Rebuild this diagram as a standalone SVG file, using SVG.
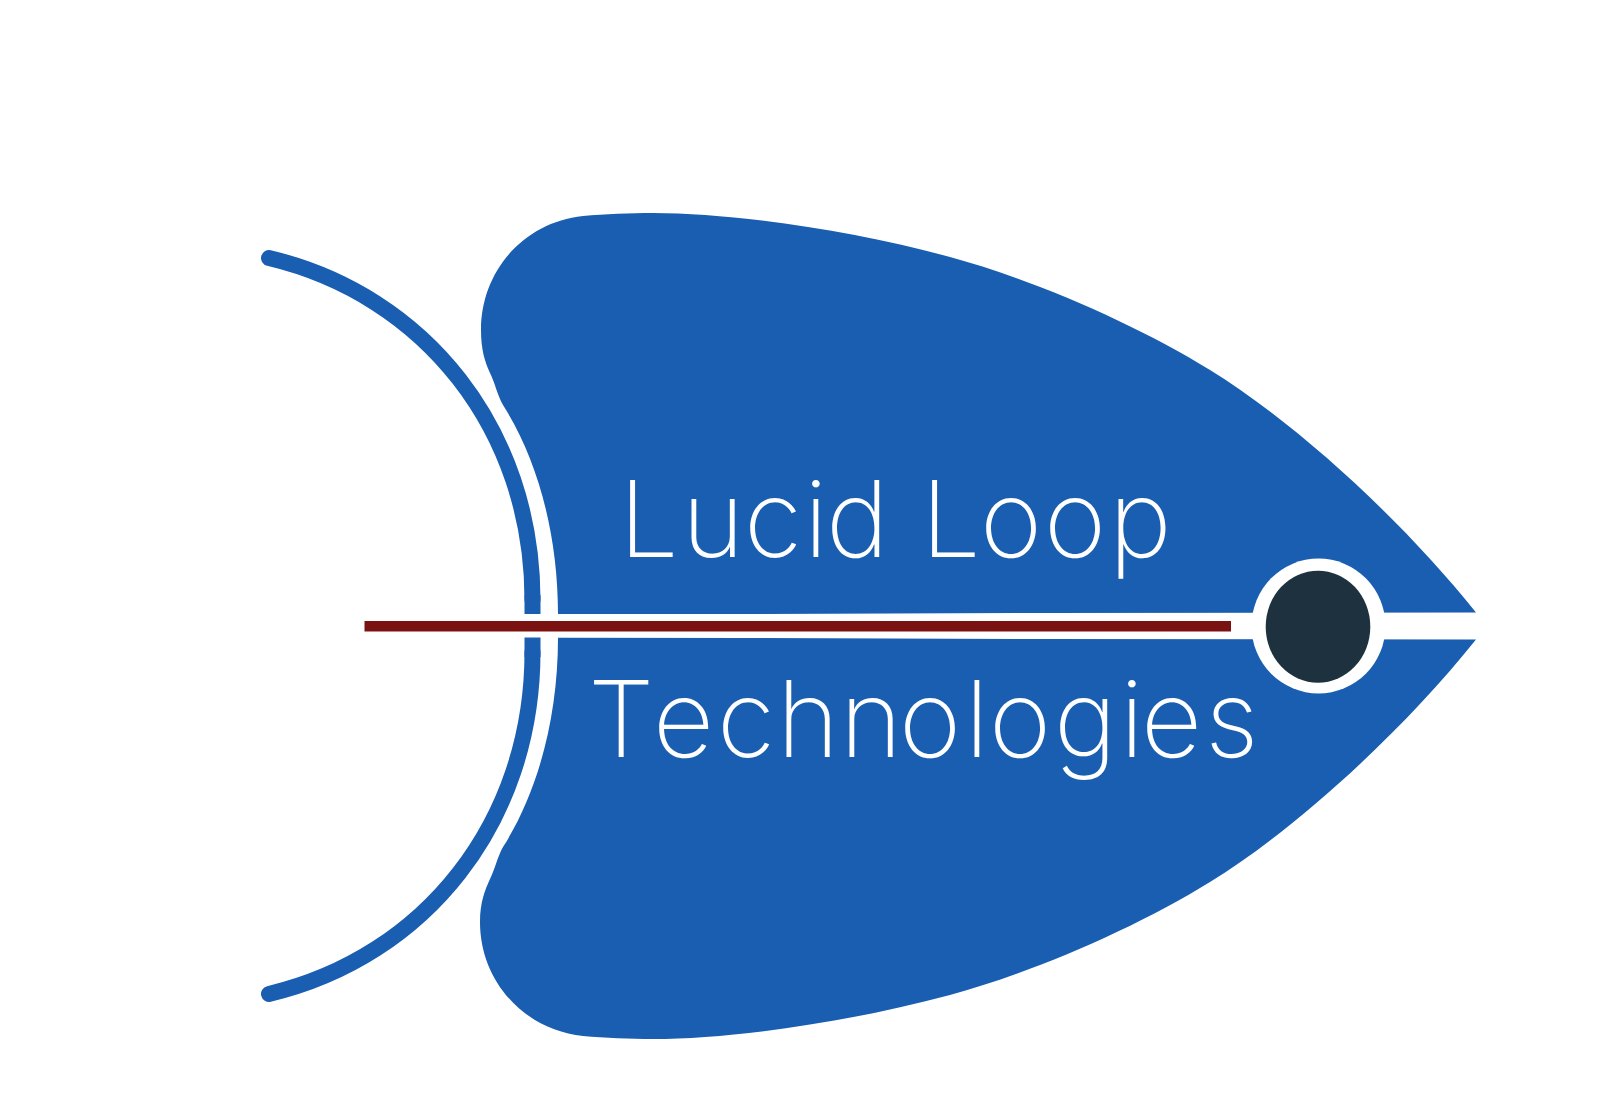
<svg xmlns="http://www.w3.org/2000/svg" width="1600" height="1112" viewBox="0 0 1600 1112">
<style>
.blue{fill:#195eb1}
.arc{fill:none;stroke:#195eb1;stroke-width:16}
.t{font-family:"Inter","Open Sans",sans-serif;font-weight:250;font-size:106px;fill:#fff}
</style>
<rect width="1600" height="1112" fill="#fff"/>
<g id="body">
<path class="blue" d="M558,614 L745,614 L1040,613 L1476,612.5 C1402,520 1296,423 1210,370 C1137,324.7 1033,279.4 950,257 C852,230.5 733,213 653,213 C630,213 605,214 583,216 C525,222 481,270 481,330 C481,350 485,362 490,373 C495,383 497,394 503,405 C538,460 558,535 558,614 Z"/>
<path class="blue" d="M558,637.7 L745,638 L1040,639 L1476,639.5 C1402,732 1296,829 1210,882 C1137,927.3 1033,972.6 950,995 C852,1021.5 733,1039 653,1039 C630,1039 605,1038 583,1036 C525,1030 480,982 480,922 C480,902 485,890 490,879 C495,869 497,858 503,847 C538,792 558,717 558,637.7 Z"/>
</g>
<g id="arc">
<path class="arc" stroke-linecap="round" d="M269,258 C425,295 532.5,430 532.5,600"/>
<path class="arc" d="M532.5,595 L532.5,614"/>
<path class="arc" stroke-linecap="round" d="M269,994 C425,957 532.5,822 532.5,652"/>
<path class="arc" d="M532.5,657 L532.5,637.5"/>
</g>
<g id="eye">
<ellipse cx="1318.5" cy="626" rx="67" ry="67.5" fill="#fff"/>
<ellipse cx="1318" cy="626.7" rx="52.3" ry="56" fill="#1d323e"/>
</g>
<g id="bar"><rect x="364.5" y="621" width="866.5" height="10.5" fill="#7a1212"/></g>
<g id="labels">
<text class="t" y="557.3" x="619 682 744 804 826 880 921 980 1044 1109">Lucid Loop</text>
<text class="t" y="757.3" x="588 653 717 777 840 899 965 989 1054 1120 1141 1205">Technologies</text>
</g>
</svg>
